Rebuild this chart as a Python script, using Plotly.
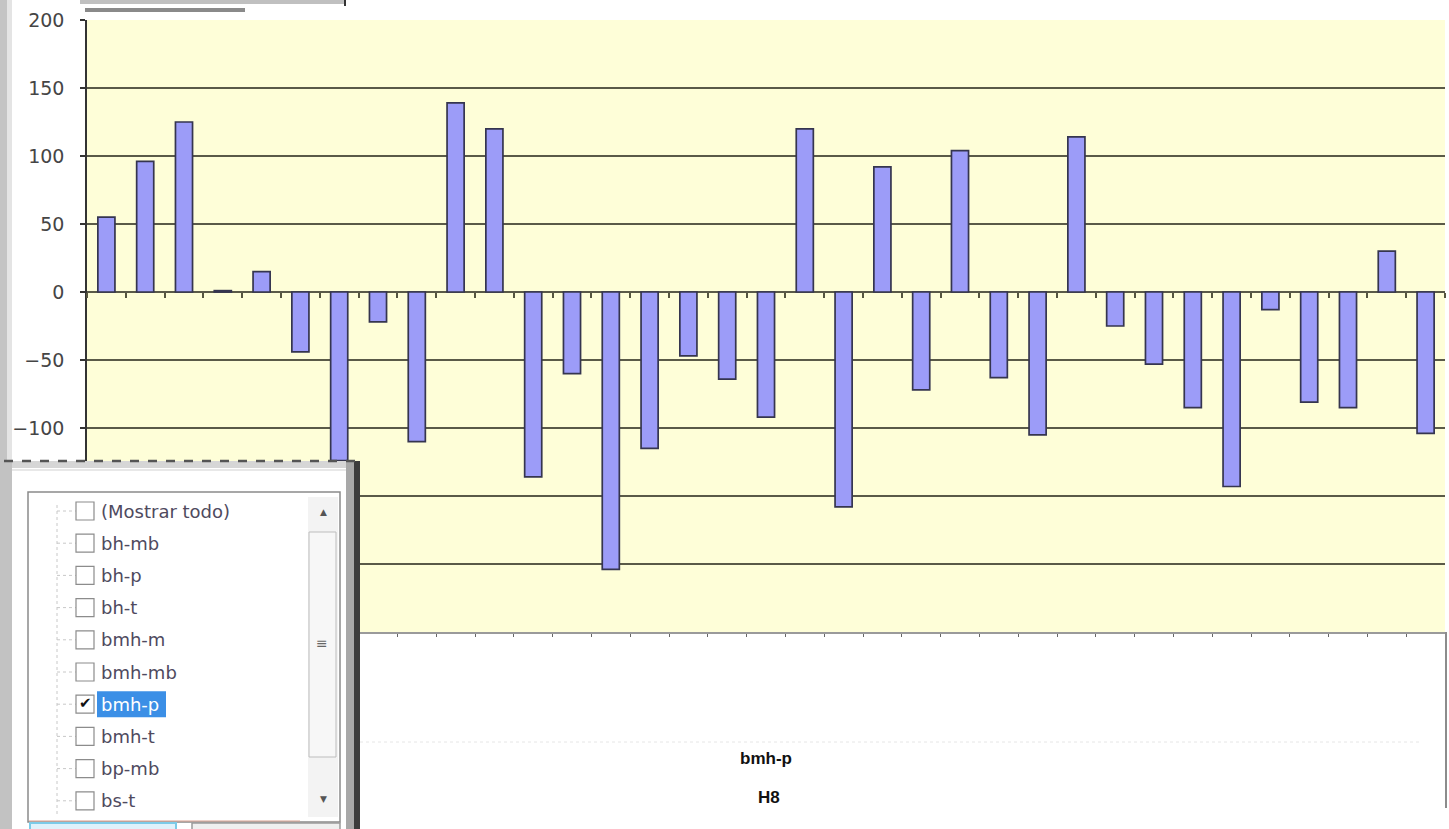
import plotly.graph_objects as go

# Series shown in the chart: one value per station
puntos = [f"P{i:02d}" for i in range(1, 36)]
valores = [55, 96, 125, 1, 15, -44, -124, -22, -110, 139,
           120, -136, -60, -204, -115, -47, -64, -92, 120, -158,
           92, -72, 104, -63, -105, 114, -25, -53, -85, -143,
           -13, -81, -85, 30, -104]

y_ticks = [-250, -200, -150, -100, -50, 0, 50, 100, 150, 200]
y_range = [-250, 200]

filtro_items = ["(Mostrar todo)", "bh-mb", "bh-p", "bh-t", "bmh-m",
                "bmh-mb", "bmh-p", "bmh-t", "bp-mb", "bs-t"]
filtro_sel = "bmh-p"
campo_serie = "bmh-p"
campo_pagina = "H8"

W, H = 1449, 829
ML, MR, MT, MB = 87, 4, 20, 197
PW, PH = W - ML - MR, H - MT - MB


def px(x):
    return (x - ML) / PW


def py(y):
    return (H - MB - y) / PH


fig = go.Figure()
fig.add_trace(go.Bar(
    x=puntos, y=valores,
    marker=dict(color="#9c9cf8", line=dict(color="#35354f", width=1.7)),
    width=0.44, showlegend=False, hoverinfo="x+y",
))
# invisible helper trace so the bottom category axis is drawn
fig.add_trace(go.Scatter(x=puntos, y=[0] * len(puntos), xaxis="x2",
                         mode="markers", marker=dict(opacity=0),
                         showlegend=False, hoverinfo="skip"))

zero_pos = (0 - y_range[0]) / (y_range[1] - y_range[0])

fig.update_layout(
    width=W, height=H,
    margin=dict(l=ML, r=MR, t=MT, b=MB, pad=0),
    paper_bgcolor="white",
    plot_bgcolor="#fefed8",
    bargap=0.56,
    xaxis=dict(type="category", anchor="free", position=zero_pos,
               showticklabels=False, tickson="boundaries", ticks="outside",
               ticklen=5, tickcolor="#55553f", tickwidth=1.5,
               showline=False, showgrid=False, zeroline=False,
               range=[-0.5, len(puntos) - 0.5]),
    xaxis2=dict(type="category", overlaying="x", anchor="y", side="bottom",
                showticklabels=False, tickson="boundaries", ticks="outside",
                ticklen=3, tickcolor="#666", showline=True, linecolor="#9a9a9a",
                linewidth=1.5, showgrid=False, zeroline=False,
                range=[-0.5, len(puntos) - 0.5]),
    yaxis=dict(range=y_range, tickvals=y_ticks,
               ticks="outside", ticklen=5, tickcolor="#333", tickwidth=1.5,
               showline=True, linecolor="#333", linewidth=1.5,
               showgrid=True, gridcolor="#5a5a48", gridwidth=1.6,
               zeroline=True, zerolinecolor="#5a5a48", zerolinewidth=1.6,
               ticklabelstandoff=12,
               tickfont=dict(family="DejaVu Sans", size=19, color="#454545")),
    font=dict(family="DejaVu Sans"),
)

shapes = []
ann = []


def rect(x0, y0, x1, y1, fill, line=None, lw=0, dash=None):
    shapes.append(dict(type="rect", xref="paper", yref="paper",
                       x0=px(x0), x1=px(x1), y0=py(y1), y1=py(y0),
                       fillcolor=fill,
                       line=dict(color=line or fill, width=lw, dash=dash),
                       layer="above"))


def line(x0, y0, x1, y1, color, lw=1, dash=None):
    shapes.append(dict(type="line", xref="paper", yref="paper",
                       x0=px(x0), x1=px(x1), y0=py(y0), y1=py(y1),
                       line=dict(color=color, width=lw, dash=dash),
                       layer="above"))


def text(x, y, s, size=16, color="#4f4a5e", bold=False, xanchor="left",
         family="DejaVu Sans", bg=None):
    ann.append(dict(xref="paper", yref="paper", x=px(x), y=py(y),
                    text=f"<b>{s}</b>" if bold else s, showarrow=False,
                    xanchor=xanchor, yanchor="middle",
                    font=dict(family=family, size=size, color=color),
                    bgcolor=bg))


# window edge on the left and the toolbar piece at the top
rect(0, 0, 7, 461, "#c4c4c4")
rect(7, 0, 12, 461, "#e4e4e4")
rect(80, 0, 345, 4, "#c0c0c0")
line(345, 0, 345, 6, "#333", 2)
rect(85, 8, 245, 12, "#8a8a8a")

# faint guide lines in the lower area
line(360, 742, 1420, 742, "#e6e6e6", 1, "dot")
line(1446, 632, 1446, 808, "#8c8c8c", 2)

# field filter dropdown panel
rect(0, 461, 360, 829, "#d6d6d6")
rect(0, 461, 12, 829, "#c2c2c2")
rect(12, 468, 346, 829, "#ffffff")
rect(346, 461, 354, 829, "#a8a8a8")
rect(354, 461, 360, 829, "#3c3c3c")
line(4, 461, 356, 461, "#555", 2.5, "dash")
line(12, 470, 346, 470, "#e8e8e8", 2)

# list box
rect(28, 492, 340, 822, "#ffffff", "#8a8a8a", 1.5)
line(29, 821, 300, 821, "#d9a090", 1)
# scrollbar
rect(308, 497, 338, 817, "#f3f3f3")
rect(309, 532, 336, 757, "#f7f7f7", "#bdbdbd", 1)
text(323, 512, "▲", size=9, color="#555", xanchor="center")
text(323, 799, "▼", size=9, color="#555", xanchor="center")
text(322, 643, "≡", size=14, color="#666", xanchor="center")

item_y0, item_step = 511, 32.2
line(57, 505, 57, 815, "#c8c8c8", 1, "dot")
for i, name in enumerate(filtro_items):
    yy = item_y0 + i * item_step
    line(57, yy, 76, yy, "#c8c8c8", 1, "dot")
    rect(76, yy - 9, 94, yy + 9, "#ffffff", "#8c8c8c", 1.2)
    if name == filtro_sel:
        rect(97, yy - 13, 166, yy + 13, "#3b8fe6")
        text(85, yy - 1, "✔", size=15, color="#111", xanchor="center")
        text(99, yy, name, size=18, color="#ffffff")
    else:
        text(99, yy, name, size=18)

# OK / cancel buttons (top edge visible)
rect(30, 823, 176, 845, "#dff2fb", "#7ccbe8", 2)
rect(192, 823, 340, 845, "#efefef", "#9a9a9a", 1.5)

# page / series field labels under the chart
text(766, 758, campo_serie, size=17, color="#111", bold=True,
     xanchor="center", family="Liberation Sans")
text(769, 797, campo_pagina, size=17, color="#111", bold=True,
     xanchor="center", family="Liberation Sans")

fig.update_layout(shapes=shapes, annotations=ann)
fig.write_html("out.html")
